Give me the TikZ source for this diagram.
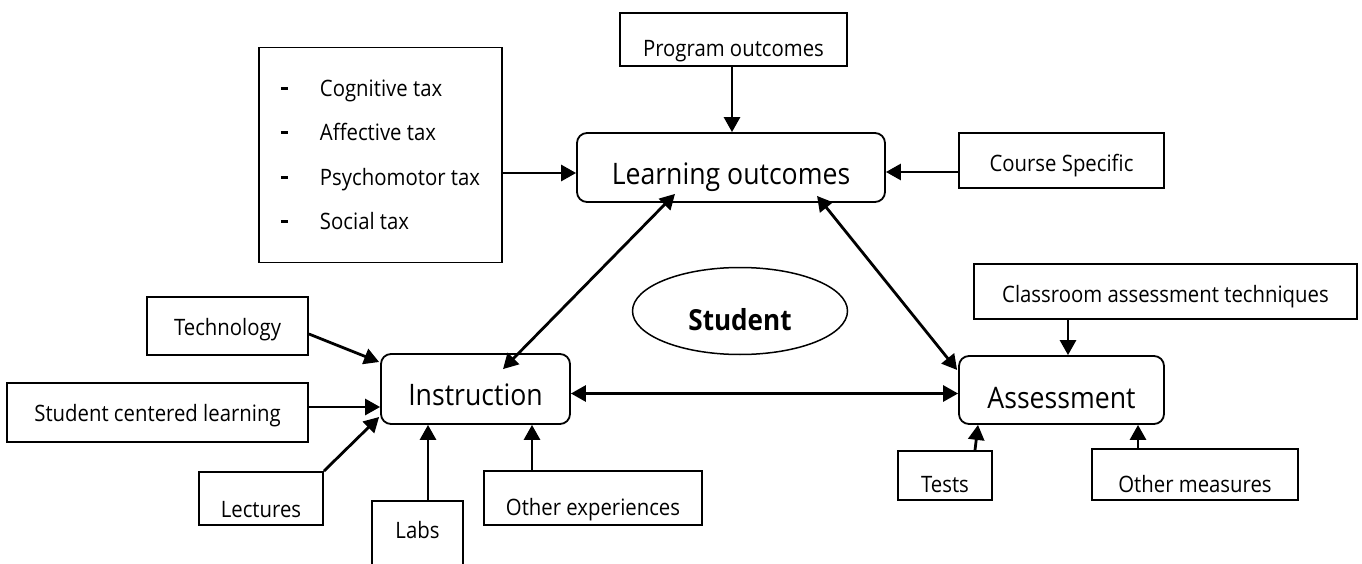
\documentclass[tikz,border=0pt]{standalone}
\usepackage{fontspec}
\setmainfont{Open Sans}[FakeStretch=0.9]
\usetikzlibrary{arrows.meta,calc,shapes.geometric}
\tikzset{
  box/.style={draw=black, line width=1.8pt, inner sep=0pt, fill=white},
  rbox/.style={box, rounded corners=10pt},
  bl/.style={text height=#1, text depth=0pt},
  small/.style={font=\fontsize{22.6}{27}\selectfont},
  big/.style={font=\fontsize{29.6}{34}\selectfont},
  arr/.style={line width=2.8pt, -{Triangle[length=15pt,width=16pt]}},
  darr/.style={line width=2.8pt, {Triangle[length=15pt,width=16pt]}-{Triangle[length=15pt,width=16pt]}},
}
\newcommand{\taxdash}{\makebox[39pt][l]{\rule[6.5pt]{7pt}{3pt}}}
\begin{document}
\begin{tikzpicture}[x=1pt,y=-1pt]
\useasboundingbox (0,0) rectangle (1362,564);
\fill[white] (0,0) rectangle (1362,564);
\clip (0,0) rectangle (1362,564);

% taxonomy box
\node[box, minimum width=243pt, minimum height=215pt, align=left,
      font=\fontsize{22.6}{44.5}\selectfont] (tax) at (380.5,155)
  {\taxdash Cognitive tax\\
   \taxdash Affective tax\\
   \taxdash Psychomotor tax\\
   \taxdash Social tax};

\node[box, small, bl=35pt, minimum width=227pt, minimum height=53pt] (prog) at (733.5,39.5) {Program outcomes};
\node[rbox, big, bl=35pt, minimum width=308pt, minimum height=69pt] (lo) at (731,167.5) {Learning outcomes};
\node[box, small, bl=23pt, minimum width=205pt, minimum height=55pt] (course) at (1061.5,160.5) {Course Specific};

\node[ellipse, draw=black, line width=1.5pt, minimum width=215pt, minimum height=87pt, inner sep=0pt,
      font=\fontsize{29}{33}\selectfont\bfseries, text height=38pt, text depth=0pt] (stu) at (740,311) {Student};

\node[box, small, bl=18pt, minimum width=161pt, minimum height=58pt] (tech) at (227.5,326) {Technology};
\node[box, small, bl=18pt, minimum width=301pt, minimum height=59pt] (scl) at (157.5,412.5) {Student centered learning};
\node[box, small, bl=37pt, minimum width=124pt, minimum height=53pt] (lect) at (261,498.5) {Lectures};
\node[rbox, big, bl=32pt, minimum width=189pt, minimum height=70pt] (instr) at (475.5,389) {Instruction};
\node[box, small, text height=0pt, text depth=15pt, minimum width=91pt, minimum height=89pt] (labs) at (417.5,545.5) {Labs};
\node[box, small, bl=34pt, minimum width=218pt, minimum height=54pt] (oexp) at (593,498) {Other experiences};

\node[box, small, bl=21pt, minimum width=383pt, minimum height=55pt] (cat) at (1165.5,291.5) {Classroom assessment techniques};
\node[rbox, big, bl=36pt, minimum width=205pt, minimum height=68pt] (assess) at (1061.5,390) {Assessment};
\node[box, small, bl=33pt, minimum width=94pt, minimum height=49pt] (tests) at (945,475.5) {Tests};
\node[box, small, bl=35pt, minimum width=206pt, minimum height=51pt] (om) at (1195,474.5) {Other measures};

% connectors
\draw[arr] ($(tax.east)+(0,18)$) coordinate (a1) -- (a1 -| lo.west);
\draw[arr] ($(prog.south)+(-1.5,0)$) coordinate (a2) -- (a2 |- lo.north);
\draw[arr] ($(course.west)+(0,11.5)$) coordinate (a3) -- (a3 -| lo.east);
\draw[darr] ($(lo.south)+(-56,-9)$) -- ($(instr.north)+(27.5,16)$);
\draw[darr] ($(lo.south)+(86,-7)$) -- ($(assess.west)+(-1,-20)$);
\draw[darr] ($(instr.east)+(0,4.5)$) coordinate (a6) -- (a6 -| assess.west);

\draw[arr] ($(tech.east)+(0,8)$) -- ($(instr.west)+(-1,-27)$);
\draw[arr] ($(scl.east)+(0,-5.5)$) coordinate (a8) -- (a8 -| instr.west);
\draw[arr] (lect.north east) -- ($(instr.west)+(-1,28)$);
\draw[arr] ($(labs.north)+(10.5,0)$) coordinate (a10) -- (a10 |- instr.south);
\draw[arr] ($(oexp.north)+(-61,0)$) coordinate (a11) -- (a11 |- instr.south);

\draw[arr] ($(cat.south)+(-97.5,0)$) coordinate (a12) -- (a12 |- assess.north);
\draw[arr] ($(tests.north)+(30,0)$) -- ($(assess.south)+(-83.5,0)$);
\draw[arr] ($(om.north)+(-57,0)$) coordinate (a14) -- (a14 |- assess.south);
\end{tikzpicture}
\end{document}
